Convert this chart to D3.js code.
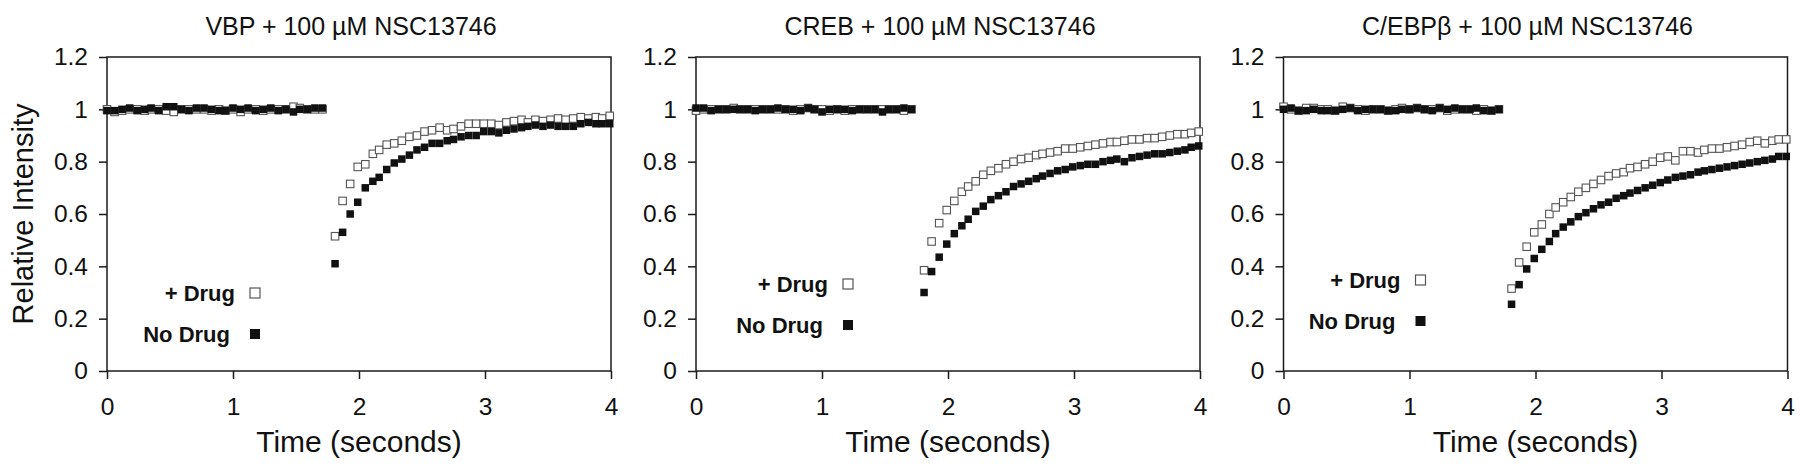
<!DOCTYPE html>
<html>
<head>
<meta charset="utf-8">
<script src="https://cdn.jsdelivr.net/npm/d3@7"></script>
<style>
    body { margin: 0; background: #fff; }
    text { font-family: "Liberation Sans", Arial, Helvetica, sans-serif; fill: #111; }
</style>
</head>
<body>
<svg id="canvas"></svg>
<script>
// frame times (s): 30 pre-bleach frames, then 38 post-bleach frames
var times = [0.00, 0.06, 0.12, 0.18, 0.24, 0.30, 0.35, 0.41, 0.47, 0.53, 0.59, 0.65, 0.71, 0.77, 0.83,
    0.89, 0.94, 1.00, 1.06, 1.12, 1.18, 1.24, 1.30, 1.36, 1.42, 1.48, 1.53, 1.59, 1.65, 1.71,
    1.81, 1.87, 1.93, 1.99, 2.05, 2.11, 2.16, 2.22, 2.28, 2.34, 2.40, 2.46, 2.52, 2.58, 2.64, 2.70,
    2.75, 2.81, 2.87, 2.93, 2.99, 3.05, 3.11, 3.17, 3.23, 3.29, 3.34, 3.40, 3.46, 3.52, 3.58, 3.64,
    3.70, 3.76, 3.82, 3.88, 3.93, 3.99];

var titles = ["VBP + 100 \u00b5M NSC13746", "CREB + 100 \u00b5M NSC13746", "C/EBP\u03b2 + 100 \u00b5M NSC13746"];
var seriesNames = ["+ Drug", "No Drug"];
var xTicks = [0, 1, 2, 3, 4];
var yTicks = [0, 0.2, 0.4, 0.6, 0.8, 1, 1.2];

// VBP
var vbpDrug = [1.0, 0.99, 0.995, 1.0, 1.0, 0.995, 1.0, 1.0, 0.995, 0.99, 1.0, 1.0, 1.0, 1.0, 0.995,
    1.0, 0.995, 1.0, 0.99, 1.0, 1.0, 0.995, 1.0, 1.0, 1.0, 1.01, 1.005, 1.0, 1.0, 1.0,
    0.515, 0.65, 0.715, 0.78, 0.79, 0.83, 0.845, 0.865, 0.87, 0.88, 0.895, 0.90, 0.915, 0.92, 0.93,
    0.92, 0.925, 0.935, 0.945, 0.945, 0.945, 0.945, 0.94, 0.95, 0.955, 0.96, 0.95, 0.96, 0.955,
    0.96, 0.965, 0.96, 0.965, 0.97, 0.965, 0.97, 0.965, 0.975];
var vbpNoDrug = [0.995, 0.995, 1.0, 1.005, 0.995, 1.0, 1.005, 0.995, 1.01, 1.01, 1.0, 0.995, 1.005, 1.005, 1.0,
    0.995, 0.995, 1.005, 1.0, 1.005, 0.995, 1.0, 1.005, 0.995, 1.0, 0.99, 1.0, 1.0, 1.005, 1.005,
    0.41, 0.53, 0.60, 0.645, 0.70, 0.725, 0.74, 0.77, 0.795, 0.81, 0.825, 0.845, 0.855, 0.87, 0.87,
    0.88, 0.885, 0.895, 0.90, 0.90, 0.915, 0.915, 0.91, 0.92, 0.925, 0.93, 0.935, 0.94, 0.935,
    0.94, 0.935, 0.935, 0.935, 0.945, 0.95, 0.945, 0.945, 0.945];

// CREB
var crebDrug = [0.995, 1.0, 1.0, 1.0, 1.0, 1.005, 1.0, 1.0, 1.0, 1.0, 1.0, 1.0, 1.0, 0.995, 1.0,
    1.005, 1.0, 1.0, 0.995, 1.0, 0.995, 1.0, 1.0, 1.0, 1.0, 1.0, 1.0, 1.0, 0.995, 1.0,
    0.385, 0.495, 0.565, 0.615, 0.65, 0.685, 0.705, 0.725, 0.75, 0.765, 0.775, 0.79, 0.80, 0.81, 0.815,
    0.825, 0.83, 0.835, 0.84, 0.85, 0.85, 0.855, 0.86, 0.865, 0.87, 0.875, 0.875, 0.88, 0.885,
    0.885, 0.89, 0.89, 0.895, 0.90, 0.905, 0.905, 0.91, 0.915];
var crebNoDrug = [1.005, 1.005, 0.995, 1.0, 1.0, 1.0, 1.0, 1.0, 0.995, 1.0, 1.0, 1.005, 1.0, 1.0, 0.995,
    1.005, 1.0, 0.99, 1.0, 1.0, 1.0, 0.995, 1.0, 1.0, 1.0, 0.99, 1.0, 1.0, 1.005, 1.0,
    0.30, 0.38, 0.435, 0.485, 0.525, 0.555, 0.58, 0.61, 0.63, 0.655, 0.67, 0.685, 0.705, 0.715, 0.725,
    0.735, 0.745, 0.755, 0.765, 0.77, 0.78, 0.785, 0.79, 0.79, 0.80, 0.805, 0.81, 0.80, 0.815,
    0.82, 0.825, 0.83, 0.83, 0.835, 0.84, 0.845, 0.855, 0.86];

// C/EBPbeta
var cebpDrug = [1.01, 1.0, 0.995, 1.005, 1.005, 1.0, 1.0, 0.995, 1.01, 1.005, 1.0, 0.995, 1.0, 1.0, 0.995,
    1.0, 1.005, 1.0, 1.005, 1.0, 1.0, 1.005, 0.995, 1.0, 1.0, 1.0, 0.995, 1.0, 0.995, 1.0,
    0.315, 0.415, 0.475, 0.53, 0.56, 0.60, 0.625, 0.645, 0.665, 0.685, 0.70, 0.715, 0.73, 0.745, 0.755,
    0.76, 0.775, 0.78, 0.79, 0.80, 0.815, 0.82, 0.805, 0.84, 0.84, 0.835, 0.845, 0.85, 0.85,
    0.855, 0.86, 0.865, 0.875, 0.88, 0.87, 0.88, 0.885, 0.885];
var cebpNoDrug = [1.0, 1.005, 0.995, 0.995, 1.0, 0.995, 0.995, 0.995, 1.0, 1.005, 0.995, 1.0, 1.0, 1.0, 0.995,
    0.995, 1.0, 1.0, 1.005, 1.0, 0.995, 1.005, 1.0, 1.005, 1.0, 1.0, 1.005, 0.995, 0.995, 1.0,
    0.255, 0.33, 0.39, 0.43, 0.465, 0.495, 0.525, 0.55, 0.57, 0.59, 0.605, 0.62, 0.635, 0.645, 0.66,
    0.67, 0.68, 0.69, 0.70, 0.71, 0.72, 0.73, 0.74, 0.745, 0.75, 0.76, 0.765, 0.77, 0.775,
    0.78, 0.785, 0.79, 0.795, 0.80, 0.805, 0.81, 0.82, 0.82];

var panelData = [[vbpDrug, vbpNoDrug], [crebDrug, crebNoDrug], [cebpDrug, cebpNoDrug]];

var width = 1800, height = 469;
var plotLefts = [107, 696, 1283.5], plotWidth = 504,
    plotTop = 57, plotBottom = 371;
// legend marker position for each panel (px from plot left, px from top)
var legendPos = [[148, 293], [152, 284], [137, 280]];
var ink = "#1a1a1a";

var svg = d3.select("#canvas")
    .attr("width", width)
    .attr("height", height);

var y = d3.scaleLinear().domain([0, 1.2]).range([plotBottom, plotTop]);

// y axis title
svg.append("text")
    .attr("transform", "translate(33," + (plotTop + plotBottom) / 2 + ") rotate(-90)")
    .attr("text-anchor", "middle")
    .style("font-size", "29px")
    .text("Relative Intensity");

panelData.forEach(function(pair, p) {
    var left = plotLefts[p];
    var x = d3.scaleLinear().domain([0, 4]).range([left, left + plotWidth]);

    var g = svg.append("g");

    // title
    g.append("text")
        .attr("x", left + plotWidth / 2 - 8)
        .attr("y", 35)
        .attr("text-anchor", "middle")
        .style("font-size", "25px")
        .text(titles[p]);

    // axes
    var yAxis = d3.axisLeft(y).tickValues(yTicks).tickSize(8).tickPadding(11)
        .tickFormat(d3.format("~g"));
    var xAxis = d3.axisBottom(x).tickValues(xTicks).tickSize(8).tickPadding(19)
        .tickFormat(d3.format("d"));

    g.append("g")
        .attr("transform", "translate(" + left + ",0)")
        .call(yAxis)
        .call(function(a) { a.select(".domain").remove(); });
    g.append("g")
        .attr("transform", "translate(0," + plotBottom + ")")
        .call(xAxis)
        .call(function(a) { a.select(".domain").remove(); });

    g.selectAll(".tick line").attr("stroke", ink).attr("stroke-width", 1.5);
    g.selectAll(".tick text").style("font-size", "24.5px").attr("fill", ink)
        .style("font-family", "\"Liberation Sans\", Arial, sans-serif");

    // plot frame
    g.append("rect")
        .attr("x", x(0))
        .attr("y", y(1.2))
        .attr("width", x(4) - x(0))
        .attr("height", y(0) - y(1.2))
        .attr("fill", "none")
        .attr("stroke", ink)
        .attr("stroke-width", 1.5);

    // open squares (+ Drug), then filled squares (No Drug) on top
    var s = 7.5;
    g.selectAll(".drug")
        .data(pair[0])
        .enter().append("rect")
        .attr("class", "drug")
        .attr("x", function(d, i) { return x(times[i]) - s / 2; })
        .attr("y", function(d) { return y(d) - s / 2; })
        .attr("width", s).attr("height", s)
        .attr("fill", "#fff")
        .attr("stroke", "#555")
        .attr("stroke-width", 1.1);

    g.selectAll(".nodrug")
        .data(pair[1])
        .enter().append("rect")
        .attr("class", "nodrug")
        .attr("x", function(d, i) { return x(times[i]) - s / 2; })
        .attr("y", function(d) { return y(d) - s / 2; })
        .attr("width", s).attr("height", s)
        .attr("fill", "#111");

    // legend
    var lx = left + legendPos[p][0], ly = legendPos[p][1], m = 10;
    seriesNames.forEach(function(name, k) {
        var yy = ly + k * 41;
        g.append("text")
            .attr("x", lx - (k === 0 ? 20 : 25))
            .attr("y", yy)
            .attr("dy", "0.36em")
            .attr("text-anchor", "end")
            .style("font-size", "22px")
            .style("font-weight", "bold")
            .text(name);
        g.append("rect")
            .attr("x", lx - m / 2)
            .attr("y", yy - m / 2)
            .attr("width", m).attr("height", m)
            .attr("fill", k === 0 ? "#fff" : "#111")
            .attr("stroke", k === 0 ? "#555" : "none")
            .attr("stroke-width", 1.2);
    });

    // x axis title
    g.append("text")
        .attr("x", left + plotWidth / 2)
        .attr("y", 452)
        .attr("text-anchor", "middle")
        .style("font-size", "30px")
        .text("Time (seconds)");
});
</script>
</body>
</html>
